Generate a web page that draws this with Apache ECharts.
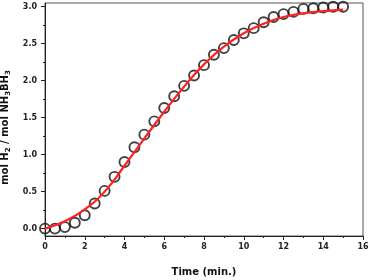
<!DOCTYPE html>
<html><head><meta charset="utf-8">
<script src="https://cdn.jsdelivr.net/npm/echarts@6/dist/echarts.min.js"></script>
<style>html,body{margin:0;padding:0;background:#fff}#c{width:370px;height:280px}</style>
</head><body><div id="c"></div>
<script>
const obsX = [0,0.5,1,1.5,2,2.5,3,3.5,4,4.5,5,5.5,6,6.5,7,7.5,8,8.5,9,9.5,10,10.5,11,11.5,12,12.5,13,13.5,14,14.5,15];
const obsY = [0.00,0.00,0.02,0.08,0.18,0.34,0.51,0.70,0.90,1.10,1.27,1.45,1.63,1.79,1.93,2.07,2.21,2.35,2.44,2.55,2.64,2.71,2.79,2.86,2.90,2.93,2.97,2.98,2.99,3.00,3.00];
const fitX = [0,1,2,3,4,5,6,7,8,9,10,11,12,13,14,15];
const fitY = [0.00,0.10,0.26,0.50,0.85,1.22,1.58,1.92,2.22,2.46,2.64,2.77,2.86,2.91,2.94,2.96];
const yMajor = [0,0.5,1,1.5,2,2.5,3];
const yMinor = [0,0.25,0.5,0.75,1,1.25,1.5,1.75,2,2.25,2.5,2.75,3];

const chart = echarts.init(document.getElementById('c'));
const font = 'DejaVu Sans';
chart.setOption({
  animation:false,
  grid:{left:45,right:7,top:3,bottom:44,show:true,borderColor:'#555',borderWidth:1,
    containLabel:false,outerBoundsMode:'none'},
  xAxis:{type:'value',min:0,max:16,interval:2,
    name:'Time (min.)',nameLocation:'middle',nameGap:31,
    nameTextStyle:{fontFamily:font,fontWeight:'bold',fontSize:10,color:'#111'},
    axisLine:{show:true,onZero:false,lineStyle:{color:'#222',width:1}},
    axisTick:{show:true,inside:false,length:4,lineStyle:{color:'#222'}},
    minorTick:{show:true,splitNumber:2,length:2,lineStyle:{color:'#222'}},
    axisLabel:{fontFamily:font,fontWeight:'bold',fontSize:8,color:'#222',margin:7},
    splitLine:{show:false}},
  yAxis:[{type:'value',min:-0.1,max:3.05,
    name:'{a|mol H}{s|2}{a| / mol NH}{s|3}{a|BH}{s|3}',nameLocation:'middle',nameGap:30,
    nameTextStyle:{fontFamily:font,fontWeight:'bold',fontSize:10,color:'#111',padding:[0,16,0,0],
      rich:{a:{fontFamily:font,fontWeight:'bold',fontSize:10,lineHeight:14,color:'#111'},
            s:{fontFamily:font,fontWeight:'bold',fontSize:7,lineHeight:8,verticalAlign:'bottom',color:'#111'}}},
    axisLine:{show:true,onZero:false,lineStyle:{color:'#222',width:1}},
    axisTick:{show:true,length:4,customValues:yMajor,lineStyle:{color:'#222'}},
    axisLabel:{fontFamily:font,fontWeight:'bold',fontSize:8,color:'#222',margin:8,
      customValues:yMajor,formatter:v=>v.toFixed(1)},
    splitLine:{show:false}},
   {type:'value',min:-0.1,max:3.05,position:'left',
    axisLine:{show:false},
    axisTick:{show:true,length:2,customValues:yMinor,lineStyle:{color:'#222'}},
    axisLabel:{show:false},splitLine:{show:false}}],
  series:[
    {type:'scatter',data:obsX.map((x,i)=>[x,obsY[i]]),symbol:'circle',symbolSize:10,
     itemStyle:{color:'rgba(0,0,0,0)',borderColor:'#111',borderWidth:1.9},z:2},
    {type:'line',data:fitX.map((x,i)=>[x,fitY[i]]),smooth:true,showSymbol:false,symbol:'none',
     lineStyle:{color:'#ff2020',width:2.2},z:3}
  ]
});
</script></body></html>
